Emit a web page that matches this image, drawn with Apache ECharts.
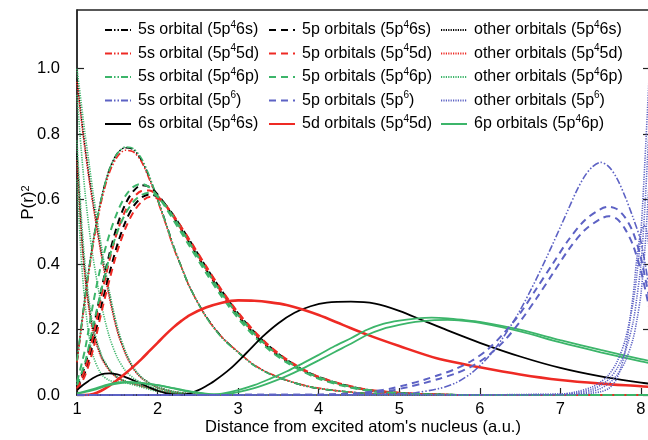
<!DOCTYPE html>
<html><head><meta charset="utf-8">
<script src="https://cdn.jsdelivr.net/npm/echarts@6/dist/echarts.min.js"></script>
<style>html,body{margin:0;padding:0;background:#fff}#c{width:648px;height:440px}</style>
</head><body><div id="c"></div><script>
// ---------- tick labels ----------
const xTicks = [1, 2, 3, 4, 5, 6, 7, 8];
const yTicks = [0, 0.2, 0.4, 0.6, 0.8, 1.0];

// ---------- legend names (^n^ = superscript) ----------
const legendCol1 = ['5s orbital (5p^4^6s)', '5s orbital (5p^4^5d)', '5s orbital (5p^4^6p)', '5s orbital (5p^6^)', '6s orbital (5p^4^6s)'];
const legendCol2 = ['5p orbitals (5p^4^6s)', '5p orbitals (5p^4^5d)', '5p orbitals (5p^4^6p)', '5p orbitals (5p^6^)', '5d orbitals (5p^4^5d)'];
const legendCol3 = ['other orbitals (5p^4^6s)', 'other orbitals (5p^4^5d)', 'other orbitals (5p^4^6p)', 'other orbitals (5p^6^)', '6p orbitals (5p^4^6p)'];

// ---------- x grids ----------
const xCore = [1.0,1.1,1.2,1.3,1.4,1.5,1.6,1.7,1.8,1.9,2.0,2.1,2.2,2.3,2.4,2.6,2.8,3.0,3.2,3.4,3.6,3.8,4.0,4.3,4.6,5.0,5.5,6.0,7.0,8.1];
const xOther = [1.0,1.05,1.1,1.15,1.2,1.3,1.4,1.5,1.6,1.7,1.8,1.9,2.0,2.2,2.4,2.6,3.0,8.1];
const x6s = [1.0,1.1,1.2,1.3,1.4,1.5,1.6,1.7,1.8,1.9,2.0,2.1,2.2,2.3,2.4,2.5,2.6,2.7,2.9,3.1,3.3,3.5,3.7,3.9,4.1,4.4,4.7,5.0,5.3,5.6,6.0,6.5,7.0,7.5,8.0,8.1];
const x5d = [1.0,1.1,1.2,1.3,1.4,1.5,1.6,1.7,1.8,1.9,2.0,2.1,2.2,2.3,2.4,2.6,2.8,3.0,3.2,3.4,3.6,3.8,4.0,4.3,4.6,5.0,5.5,6.0,6.5,7.0,7.5,8.0,8.1];
const x6p = [1.0,1.2,1.4,1.6,1.8,2.0,2.2,2.4,2.6,2.7,2.8,3.0,3.2,3.4,3.6,3.8,4.0,4.2,4.4,4.6,4.8,5.0,5.2,5.4,5.6,5.8,6.0,6.5,7.0,7.5,8.0,8.1];
const xBlue5s = [1.0,4.0,4.6,5.0,5.2,5.5,5.7,5.9,6.1,6.3,6.5,6.7,6.9,7.1,7.2,7.3,7.4,7.5,7.6,7.7,7.8,7.9,8.0,8.1];
const xBlue5p = [1.0,4.0,4.5,4.7,4.9,5.1,5.3,5.5,5.7,5.9,6.1,6.3,6.5,6.7,6.9,7.1,7.3,7.5,7.6,7.7,7.8,7.9,8.0,8.1];
const xBlueOther = [1.0,3.0,5.0,7.0,7.2,7.4,7.5,7.6,7.7,7.8,7.9,7.95,8.0,8.05,8.1];

// ---------- 5s orbitals (on xCore) ----------
const s5_6s = [0.10,0.30,0.47,0.60,0.69,0.74,0.758,0.752,0.72,0.665,0.60,0.53,0.455,0.39,0.33,0.242,0.177,0.131,0.091,0.064,0.045,0.030,0.020,0.011,0.005,0.002,0.001,0,0,0];
const s5_5d = [0.10,0.29,0.46,0.59,0.68,0.73,0.75,0.745,0.715,0.66,0.595,0.525,0.45,0.39,0.33,0.24,0.177,0.132,0.092,0.065,0.046,0.031,0.021,0.011,0.005,0.002,0.001,0,0,0];
const s5_6p = [0.105,0.30,0.47,0.60,0.69,0.74,0.76,0.755,0.725,0.67,0.60,0.53,0.455,0.39,0.33,0.24,0.175,0.13,0.09,0.063,0.045,0.030,0.020,0.011,0.005,0.002,0.001,0,0,0];
// ---------- 5p orbitals (on xCore) ----------
const p5_6s_a = [0.025,0.09,0.20,0.32,0.43,0.52,0.585,0.625,0.643,0.638,0.615,0.582,0.545,0.505,0.465,0.385,0.31,0.243,0.187,0.14,0.104,0.075,0.052,0.030,0.015,0.006,0.001,0,0,0];
const p5_6s_b = [0.02,0.07,0.16,0.27,0.37,0.46,0.53,0.578,0.605,0.615,0.607,0.583,0.55,0.512,0.473,0.393,0.318,0.25,0.193,0.146,0.108,0.078,0.055,0.032,0.016,0.006,0.001,0,0,0];
const p5_5d_a = [0.02,0.08,0.18,0.30,0.41,0.50,0.565,0.605,0.625,0.627,0.61,0.58,0.545,0.505,0.467,0.388,0.313,0.246,0.19,0.143,0.106,0.077,0.054,0.031,0.016,0.006,0.001,0,0,0];
const p5_5d_b = [0.015,0.06,0.14,0.25,0.35,0.44,0.51,0.56,0.592,0.607,0.603,0.582,0.55,0.513,0.475,0.396,0.32,0.253,0.196,0.148,0.11,0.08,0.056,0.033,0.017,0.007,0.001,0,0,0];
const p5_6p_a = [0.04,0.14,0.28,0.40,0.49,0.56,0.61,0.638,0.647,0.636,0.61,0.575,0.535,0.495,0.455,0.375,0.30,0.235,0.18,0.135,0.10,0.072,0.05,0.028,0.014,0.005,0.001,0,0,0];
const p5_6p_b = [0.03,0.10,0.21,0.32,0.42,0.50,0.555,0.592,0.613,0.62,0.608,0.58,0.545,0.505,0.465,0.385,0.31,0.245,0.188,0.142,0.105,0.076,0.054,0.031,0.016,0.006,0.001,0,0,0];
// ---------- other (inner) orbitals (on xOther) ----------
const oth_6s_a = [0.97,0.86,0.76,0.67,0.59,0.44,0.31,0.20,0.13,0.082,0.053,0.036,0.024,0.010,0.004,0.001,0,0];
const oth_6s_b = [0.74,0.52,0.37,0.27,0.20,0.12,0.078,0.054,0.042,0.035,0.028,0.021,0.014,0.006,0.002,0,0,0];
const oth_5d_a = [0.96,0.85,0.75,0.66,0.58,0.43,0.30,0.195,0.127,0.08,0.052,0.035,0.023,0.010,0.004,0.001,0,0];
const oth_5d_b = [0.72,0.50,0.36,0.26,0.19,0.115,0.075,0.052,0.041,0.034,0.027,0.02,0.013,0.005,0.002,0,0,0];
const oth_6p_a = [1.0,0.90,0.80,0.71,0.62,0.46,0.32,0.21,0.135,0.085,0.055,0.037,0.025,0.011,0.004,0.001,0,0];
const oth_6p_b = [0.92,0.76,0.62,0.51,0.42,0.28,0.18,0.115,0.075,0.052,0.038,0.028,0.02,0.009,0.003,0.001,0,0];
const oth_6p_c = [0.78,0.56,0.40,0.29,0.21,0.125,0.08,0.055,0.043,0.036,0.029,0.022,0.015,0.006,0.002,0,0,0];
const oth_6p_d = [0.66,0.43,0.28,0.18,0.12,0.065,0.045,0.04,0.037,0.031,0.024,0.017,0.011,0.004,0.001,0,0,0];
// ---------- valence orbitals ----------
const s6_6s = [0.015,0.035,0.052,0.063,0.066,0.063,0.055,0.045,0.034,0.023,0.013,0.006,0.002,0.001,0.005,0.014,0.027,0.042,0.08,0.128,0.178,0.22,0.252,0.272,0.283,0.286,0.28,0.258,0.228,0.198,0.16,0.118,0.083,0.057,0.038,0.035];
const d5_5d = [0,0,0.003,0.013,0.028,0.046,0.066,0.087,0.11,0.135,0.16,0.185,0.208,0.228,0.245,0.268,0.283,0.29,0.289,0.284,0.276,0.262,0.245,0.215,0.185,0.15,0.11,0.085,0.063,0.046,0.035,0.027,0.025];
const p6_6p_a = [0.005,0.018,0.033,0.04,0.037,0.03,0.02,0.01,0.003,0.002,0.004,0.015,0.03,0.05,0.072,0.097,0.123,0.15,0.174,0.2,0.218,0.228,0.234,0.237,0.235,0.23,0.224,0.2,0.168,0.138,0.11,0.105];
const p6_6p_b = [0.004,0.015,0.03,0.038,0.036,0.03,0.021,0.011,0.004,0.002,0.002,0.009,0.021,0.038,0.058,0.081,0.106,0.132,0.157,0.184,0.203,0.215,0.224,0.229,0.23,0.227,0.221,0.195,0.161,0.131,0.103,0.098];
// ---------- neighbour atom 5p^6 ----------
const b_5s = [0,0,0.001,0.004,0.007,0.02,0.037,0.068,0.115,0.18,0.26,0.355,0.46,0.57,0.625,0.67,0.70,0.713,0.70,0.665,0.61,0.545,0.47,0.33];
const b_5p_a = [0,0.001,0.006,0.012,0.02,0.032,0.046,0.062,0.08,0.105,0.14,0.19,0.25,0.325,0.40,0.475,0.535,0.57,0.577,0.57,0.545,0.50,0.42,0.30];
const b_5p_b = [0,0.001,0.004,0.008,0.014,0.024,0.036,0.05,0.066,0.088,0.12,0.165,0.225,0.295,0.37,0.445,0.505,0.54,0.548,0.54,0.51,0.46,0.38,0.27];
const b_oth_a = [0,0,0,0.003,0.01,0.025,0.04,0.062,0.10,0.165,0.28,0.37,0.50,0.72,0.97];
const b_oth_b = [0,0,0,0.002,0.007,0.018,0.03,0.048,0.08,0.13,0.22,0.30,0.40,0.58,0.82];
const b_oth_c = [0,0,0,0.001,0.004,0.012,0.02,0.035,0.06,0.10,0.17,0.23,0.31,0.45,0.65];
const b_oth_d = [0,0,0,0,0.002,0.006,0.01,0.02,0.05,0.13,0.30,0.42,0.50,0.52,0.45];

// ---------- styles ----------
const C = {k:'#000000', r:'#ee2a24', g:'#3cb56a', b:'#5d62c4'};
const ST = {
  s5: {type:[7,2,1.5,2,1.5,2], width:1.6},
  p5: {type:[7,5], width:2},
  oth: {type:[1.2,1.2], width:1.6},
  sol: {type:'solid', width:1.8}
};
function ser(name, color, st, xs, ys, z) {
  return {
    type:'line', name:name, data: xs.map((x,i)=>[x, ys[i]]),
    symbol:'none', showSymbol:false, smooth:0.3, silent:true, animation:false,
    lineStyle:{color:color, width:st.width, type:st.type}, itemStyle:{color:color}, z:z || 2
  };
}
const series = [
  ser(legendCol3[0], C.k, ST.oth, xOther, oth_6s_a),
  ser(legendCol3[0], C.k, ST.oth, xOther, oth_6s_b),
  ser(legendCol3[1], C.r, ST.oth, xOther, oth_5d_a),
  ser(legendCol3[1], C.r, ST.oth, xOther, oth_5d_b),
  ser(legendCol3[2], C.g, ST.oth, xOther, oth_6p_a),
  ser(legendCol3[2], C.g, ST.oth, xOther, oth_6p_b),
  ser(legendCol3[2], C.g, ST.oth, xOther, oth_6p_c),
  ser(legendCol3[2], C.g, ST.oth, xOther, oth_6p_d),
  ser(legendCol1[0], C.k, ST.s5, xCore, s5_6s),
  ser(legendCol1[1], C.r, ST.s5, xCore, s5_5d),
  ser(legendCol1[2], C.g, ST.s5, xCore, s5_6p),
  ser(legendCol2[0], C.k, ST.p5, xCore, p5_6s_a),
  ser(legendCol2[0], C.k, ST.p5, xCore, p5_6s_b),
  ser(legendCol2[1], C.r, ST.p5, xCore, p5_5d_a),
  ser(legendCol2[1], C.r, ST.p5, xCore, p5_5d_b),
  ser(legendCol2[2], C.g, ST.p5, xCore, p5_6p_a),
  ser(legendCol2[2], C.g, ST.p5, xCore, p5_6p_b),
  ser(legendCol1[4], C.k, ST.sol, x6s, s6_6s),
  ser(legendCol2[4], C.r, {type:'solid', width:2.6}, x5d, d5_5d),
  ser(legendCol3[4], C.g, ST.sol, x6p, p6_6p_a),
  ser(legendCol3[4], C.g, ST.sol, x6p, p6_6p_b),
  ser(legendCol1[3], C.b, ST.s5, xBlue5s, b_5s),
  ser(legendCol2[3], C.b, ST.p5, xBlue5p, b_5p_a),
  ser(legendCol2[3], C.b, ST.p5, xBlue5p, b_5p_b),
  ser(legendCol3[3], C.b, ST.oth, xBlueOther, b_oth_a),
  ser(legendCol3[3], C.b, ST.oth, xBlueOther, b_oth_b),
  ser(legendCol3[3], C.b, ST.oth, xBlueOther, b_oth_c),
  ser(legendCol3[3], C.b, ST.oth, xBlueOther, b_oth_d)
];

const FONT = '"Liberation Sans", Arial, Helvetica, sans-serif';
const fmt = n => n.replace(/\^(\d)\^/g, '{sup|$1}');
function legend(left, names) {
  return {
    left:left, top:20, padding:0, orient:'vertical', itemWidth:26, itemHeight:12, itemGap:3.5,
    selectedMode:false, data:names, formatter:fmt, backgroundColor:'transparent',
    itemStyle:{opacity:0, borderWidth:0},
    textStyle:{fontSize:16, fontFamily:FONT, color:'#000', lineHeight:20, padding:[0,0,0,2],
      rich:{sup:{fontSize:10, lineHeight:10, fontFamily:FONT, color:'#000', verticalAlign:'top'}}}
  };
}
const axisCol = '#222';
const option = {
  animation:false,
  backgroundColor:'#fff',
  grid:{left:77, top:10, right:-1, bottom:45, show:true, borderColor:axisCol, borderWidth:1.3, containLabel:false, outerBoundsMode:'none'},
  legend:[legend(104, legendCol1), legend(268, legendCol2), legend(440, legendCol3)],
  xAxis:{
    type:'value', min:1, max:8.1, interval:1,
    axisLine:{show:true, lineStyle:{color:axisCol, width:1.5}},
    axisTick:{show:true, inside:true, length:7, customValues:xTicks, lineStyle:{color:axisCol, width:1.2}},
    axisLabel:{customValues:xTicks, fontSize:16.5, fontFamily:FONT, color:'#000', margin:6},
    splitLine:{show:false},
    name:"Distance from excited atom's nucleus (a.u.)", nameLocation:'middle', nameGap:24, nameMoveOverlap:false,
    nameTextStyle:{fontSize:16.5, fontFamily:FONT, color:'#000'}
  },
  yAxis:[{
    type:'value', min:0, max:1.18, interval:0.2,
    axisLine:{show:true, lineStyle:{color:axisCol, width:1.5}},
    axisTick:{show:true, inside:true, length:7, customValues:yTicks, lineStyle:{color:axisCol, width:1.2}},
    axisLabel:{customValues:yTicks, fontSize:16.5, fontFamily:FONT, color:'#000', margin:17, formatter:v=>v.toFixed(1)},
    splitLine:{show:false},
    name:'P(r){sup|2}', nameLocation:'middle', nameGap:40, nameRotate:90, nameMoveOverlap:false,
    nameTextStyle:{fontSize:17, fontFamily:FONT, color:'#000',
      rich:{sup:{fontSize:11, fontFamily:FONT, color:'#000', verticalAlign:'top', lineHeight:11}}}
  },{
    type:'value', min:0, max:1.18, interval:0.2, position:'right',
    axisLine:{show:false},
    axisTick:{show:true, inside:true, length:6, customValues:yTicks, lineStyle:{color:axisCol, width:1.2}},
    axisLabel:{show:false}, splitLine:{show:false}
  }],
  series:series
};
const chart = echarts.init(document.getElementById('c'), null, {renderer:'canvas'});
chart.setOption(option);
</script></body></html>
